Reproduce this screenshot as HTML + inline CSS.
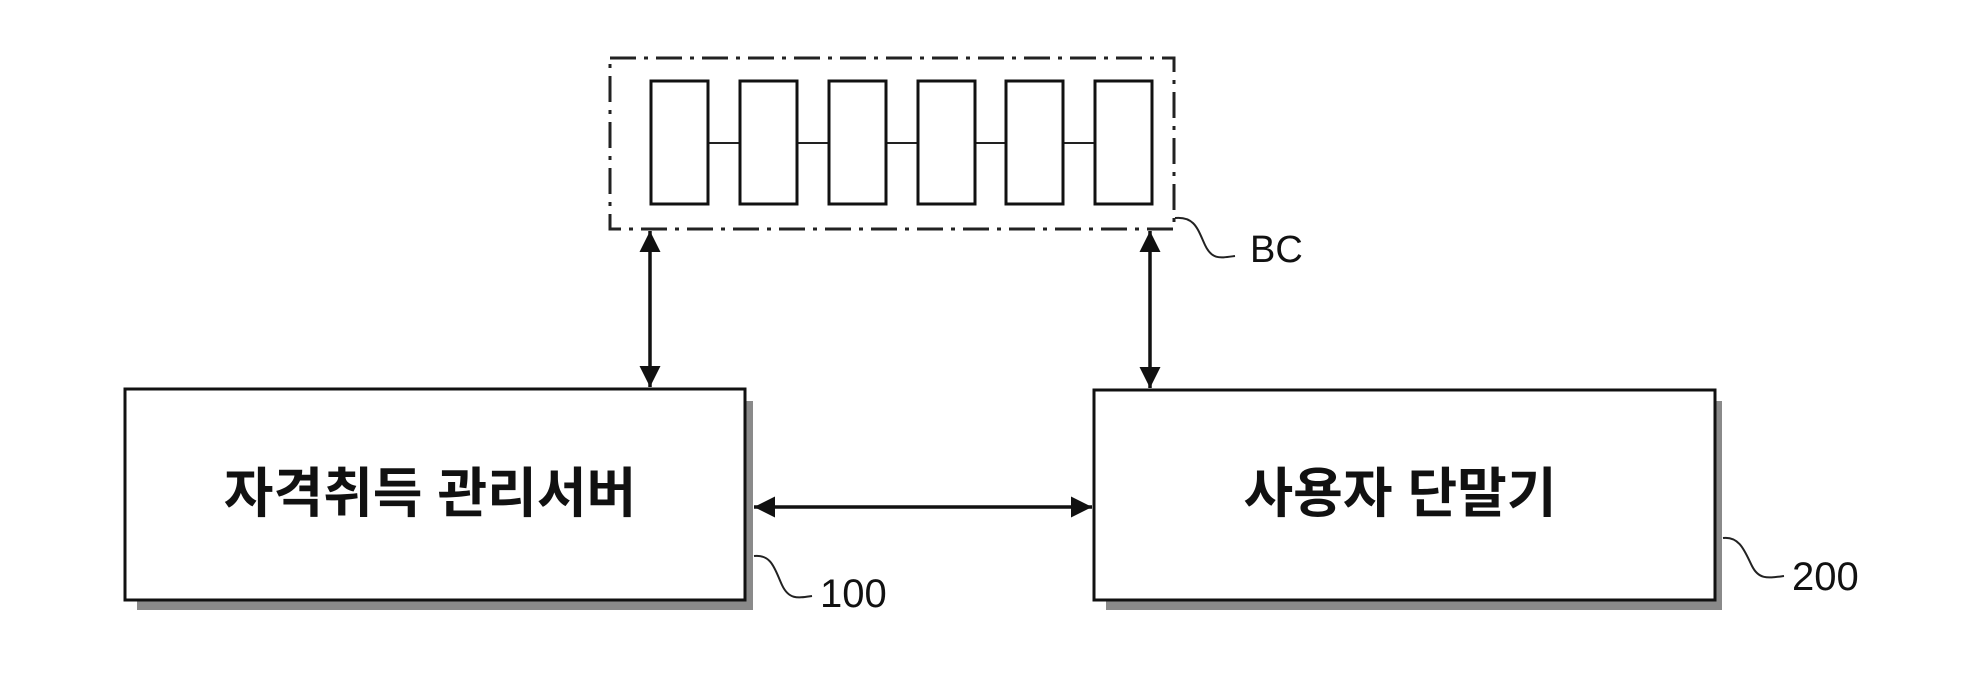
<!DOCTYPE html>
<html><head><meta charset="utf-8"><style>
html,body{margin:0;padding:0;background:#fff;}
svg{display:block;}
text{font-family:"Liberation Sans","Noto Sans CJK KR","NanumGothic",sans-serif;fill:#111;}
</style></head><body>
<svg width="1985" height="676" viewBox="0 0 1985 676" xmlns="http://www.w3.org/2000/svg">
<defs>
<marker id="ah" viewBox="0 0 10 10" refX="10" refY="5" markerWidth="9" markerHeight="6" markerUnits="strokeWidth" orient="auto-start-reverse">
<path d="M0,0 L10,5 L0,10 z" fill="#111"/>
</marker>
</defs>
<!-- BC dashed container -->
<rect x="610" y="58" width="564" height="171" fill="none" stroke="#222" stroke-width="3" stroke-dasharray="26,8,4,8"/>
<!-- chain connectors -->
<line x1="708" y1="143" x2="1095" y2="143" stroke="#222" stroke-width="2"/>
<!-- blocks -->
<g fill="#fff" stroke="#111" stroke-width="3">
<rect x="651" y="81" width="57" height="123"/>
<rect x="740" y="81" width="57" height="123"/>
<rect x="829" y="81" width="57" height="123"/>
<rect x="918" y="81" width="57" height="123"/>
<rect x="1006" y="81" width="57" height="123"/>
<rect x="1095" y="81" width="57" height="123"/>
</g>
<!-- shadows -->
<rect x="137" y="401" width="616" height="209" fill="#8a8a8a"/>
<rect x="1106" y="401" width="616" height="209" fill="#8a8a8a"/>
<!-- boxes -->
<rect x="125" y="389" width="620" height="211" fill="#fff" stroke="#111" stroke-width="3"/>
<rect x="1094" y="390" width="621" height="210" fill="#fff" stroke="#111" stroke-width="3"/>
<text x="430" y="512" font-size="54" font-weight="bold" text-anchor="middle">자격취득 관리서버</text>
<text x="1400" y="512" font-size="54" font-weight="bold" text-anchor="middle">사용자 단말기</text>
<!-- arrows -->
<g stroke="#111" stroke-width="3.5" marker-start="url(#ah)" marker-end="url(#ah)">
<line x1="650" y1="231" x2="650" y2="387"/>
<line x1="1150" y1="231" x2="1150" y2="388"/>
<line x1="754" y1="507" x2="1092" y2="507"/>
</g>
<!-- leaders -->
<g fill="none" stroke="#222" stroke-width="2">
<path d="M1175,218 C1195,216 1198,230 1205,245 C1212,260 1220,258 1235,256"/>
<path d="M754,556 C772,554 775,570 782,585 C789,600 798,598 812,596"/>
<path d="M1723,538 C1740,536 1745,552 1752,566 C1759,580 1768,578 1784,576"/>
</g>
<text x="1250" y="262" font-size="38">BC</text>
<text x="820" y="607" font-size="40">100</text>
<text x="1792" y="590" font-size="40">200</text>
</svg>
</body></html>
